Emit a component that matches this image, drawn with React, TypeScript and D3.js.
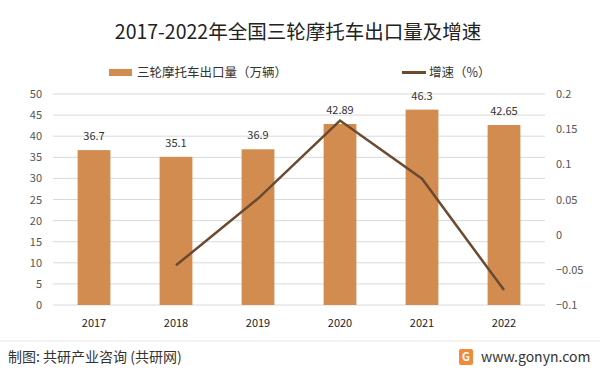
import React from "react";
import * as d3 from "d3";

const years = ["2017", "2018", "2019", "2020", "2021", "2022"];
const exports_ = [36.7, 35.1, 36.9, 42.89, 46.3, 42.65];
const growth: (number | null)[] = [null, -0.0436, 0.0513, 0.1623, 0.0795, -0.0788];
const leftTicks = [0, 5, 10, 15, 20, 25, 30, 35, 40, 45, 50];
const rightTicks = [-0.1, -0.05, 0, 0.05, 0.1, 0.15, 0.2];

const W = 600, H = 373;
const L = 53, R = 545, T = 94, B = 305;
const FONT = "'Microsoft YaHei','Noto Sans CJK SC','Noto Sans',sans-serif";

export default function App() {
  const x = d3.scaleBand().domain(years).range([L, R]).paddingInner(0.6).paddingOuter(0.3);
  const xc = (d: string) => (x(d) as number) + x.bandwidth() / 2;
  const yL = d3.scaleLinear().domain([0, 50]).range([B, T]);
  const yR = d3.scaleLinear().domain([-0.1, 0.2]).range([B, T]);
  const pts = years.map((y, i) => ({ y, v: growth[i] })).filter((p) => p.v !== null) as { y: string; v: number }[];
  const line = d3.line<{ y: string; v: number }>().x((d) => xc(d.y)).y((d) => yR(d.v));
  return (
    <svg width={W} height={H} style={{ position: "absolute", left: 0, top: 0, background: "#fff" }} fontFamily={FONT}>
      <rect width={W} height={H} fill="#fff" />
      <text x={298} y={39} textAnchor="middle" fontSize={19.5} fill="#222">2017-2022年全国三轮摩托车出口量及增速</text>
      <rect x={109} y={69} width={23} height={7} fill="#D38C4F" />
      <text x={137} y={77} fontSize={12.5} fill="#333">三轮摩托车出口量（万辆）</text>
      <line x1={402} x2={426} y1={72.5} y2={72.5} stroke="#6B4A30" strokeWidth={3} />
      <text x={429} y={77} fontSize={12.5} fill="#333">增速（%）</text>
      {leftTicks.map((t) => (
        <g key={"l" + t}>
          <line x1={L} x2={R} y1={yL(t)} y2={yL(t)} stroke="#d9d9d9" strokeWidth={1} />
          <text x={42} y={yL(t) + 4} textAnchor="end" fontSize={11} fill="#555">{t}</text>
        </g>
      ))}
      {rightTicks.map((t) => (
        <text key={"r" + t} x={556} y={yR(t) + 4} fontSize={11} fill="#555">{d3.format("")(+t.toFixed(2))}</text>
      ))}
      {years.map((y, i) => (
        <g key={y}>
          <rect x={x(y)} y={yL(exports_[i])} width={x.bandwidth()} height={B - yL(exports_[i])} fill="#D38C4F" />
          <text x={xc(y)} y={yL(exports_[i]) - 10} textAnchor="middle" fontSize={11} fill="#333">{exports_[i]}</text>
          <text x={xc(y)} y={327} textAnchor="middle" fontSize={11} fill="#222">{y}</text>
        </g>
      ))}
      <path d={line(pts) || ""} fill="none" stroke="#6B4A30" strokeWidth={2.5} />
      <line x1={0} x2={W} y1={341} y2={341} stroke="#e5e5e5" />
      <text x={8} y={362} fontSize={14} fill="#333">制图: 共研产业咨询 (共研网)</text>
      <rect x={459} y={349} width={14} height={16} rx={2} fill="#F08A3C" />
      <text x={466} y={361} textAnchor="middle" fontSize={11} fontWeight="bold" fill="#fff">G</text>
      <text x={481} y={362} fontSize={14} fill="#333">www.gonyn.com</text>
    </svg>
  );
}
